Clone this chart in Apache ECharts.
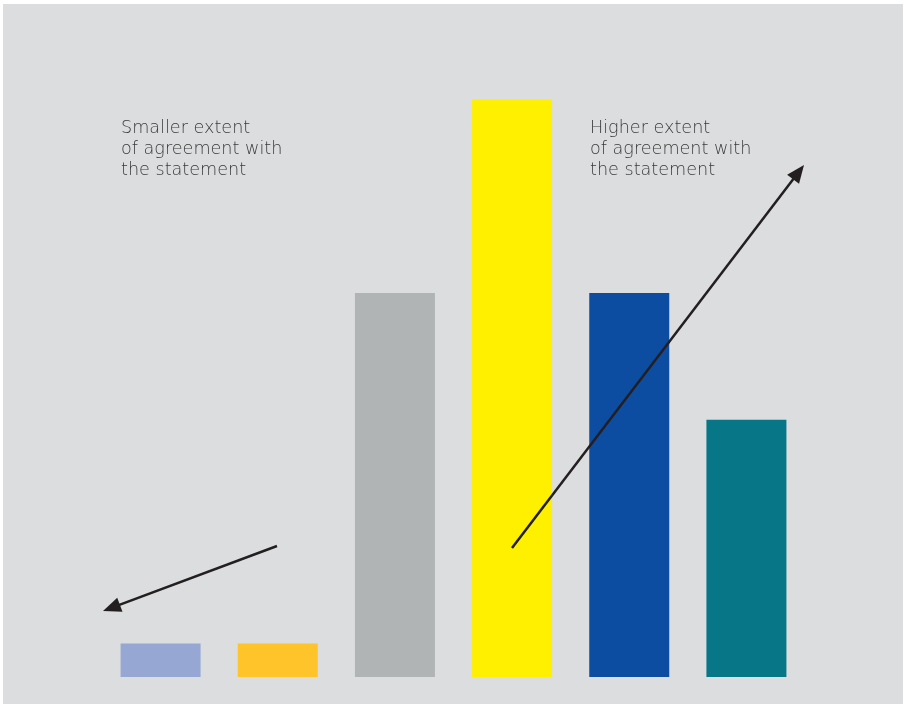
<!DOCTYPE html>
<html><head><meta charset="utf-8">
<script src="https://cdn.jsdelivr.net/npm/echarts@6/dist/echarts.min.js"></script>
<style>html,body{margin:0;padding:0;background:#fff}#c{width:908px;height:705px}</style>
</head><body><div id="c"></div>
<script>
const categories = ['1', '2', '3', '4', '5', '6'];
const values = [2.0, 2.0, 23.0, 34.6, 23.0, 15.4];
const barColors = ['#97a7d4', '#fec42a', '#b1b4b5', '#fff000', '#0c4da2', '#077787'];
const leftNote = 'Smaller extent\nof agreement with\nthe statement';
const rightNote = 'Higher extent\nof agreement with\nthe statement';

const chart = echarts.init(document.getElementById('c'));
function arrow(x1, y1, x2, y2) {
  const a = Math.atan2(y2 - y1, x2 - x1);
  const L = 18, W = 7.5;
  const bx = x2 - L * Math.cos(a), by = y2 - L * Math.sin(a);
  const px = -Math.sin(a) * W, py = Math.cos(a) * W;
  return [
    {type: 'line', shape: {x1: x1, y1: y1, x2: bx + 2 * Math.cos(a), y2: by + 2 * Math.sin(a)}, style: {stroke: '#231f20', lineWidth: 2.5}, z: 100},
    {type: 'polygon', shape: {points: [[x2, y2], [bx + px, by + py], [bx - px, by - py]]}, style: {fill: '#231f20'}, z: 100}
  ];
}
const textStyle = {fill: '#3a3a3a', font: '200 17.6px "DejaVu Sans", sans-serif', lineHeight: 21};
chart.setOption({
  animation: false,
  backgroundColor: '#ffffff',
  grid: {left: 102, right: 103, top: 9, bottom: 28},
  xAxis: {type: 'category', data: categories, show: false},
  yAxis: {type: 'value', min: 0, max: 40, show: false},
  series: [{
    type: 'bar', barWidth: 80,
    data: values.map((v, i) => ({value: v, itemStyle: {color: barColors[i]}}))
  }],
  graphic: [
    {type: 'rect', shape: {x: 3, y: 4, width: 900, height: 700}, style: {fill: '#dcdddf'}, z: -10, silent: true},
    {type: 'text', left: 121, top: 118, style: Object.assign({text: leftNote}, textStyle), z: 100},
    {type: 'text', left: 590, top: 118, style: Object.assign({text: rightNote}, textStyle), z: 100},
    ...arrow(277, 546, 103, 611),
    ...arrow(512, 548, 804, 165)
  ]
});
</script></body></html>
